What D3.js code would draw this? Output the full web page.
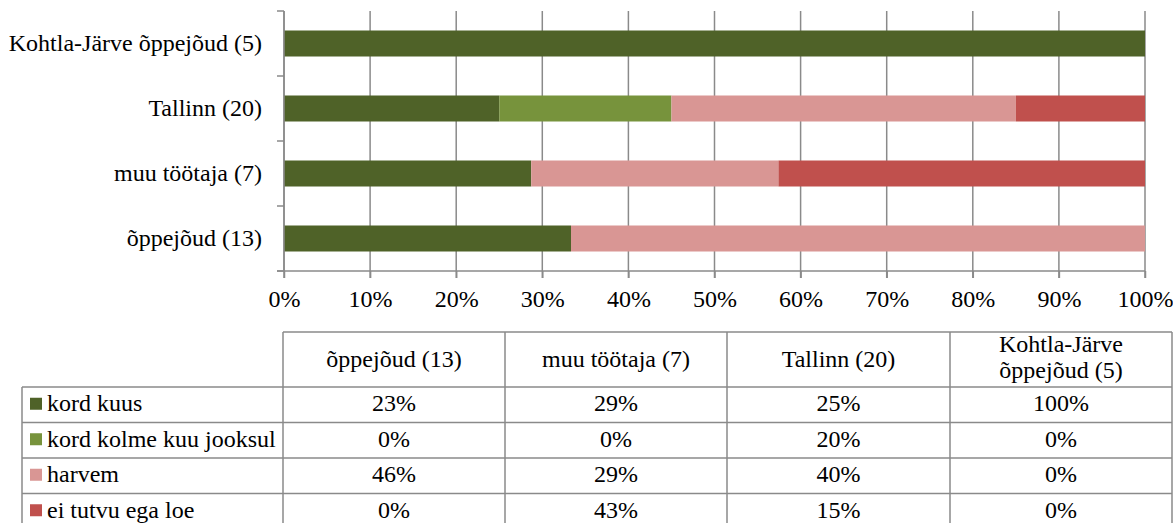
<!DOCTYPE html>
<html>
<head>
	<meta charset="utf-8">
	<title>Stacked bars with data table</title>
	<script src="https://d3js.org/d3.v7.min.js"></script>
	<style>
		body { margin: 0; background: #fff; }
		text { font-family: "Liberation Serif", "Times New Roman", serif; fill: #000; }
	</style>
</head>
<body>
	<div id="chart"></div>
	<script>
		// data
		var categories = ["õppejõud (13)", "muu töötaja (7)", "Tallinn (20)", "Kohtla-Järve õppejõud (5)"];
		var seriesNames = ["kord kuus", "kord kolme kuu jooksul", "harvem", "ei tutvu ega loe"];
		var kordKuus = [23, 29, 25, 100];
		var kordKolme = [0, 0, 20, 0];
		var harvem = [46, 29, 40, 0];
		var eiTutvu = [0, 43, 15, 0];
		var seriesValues = [kordKuus, kordKolme, harvem, eiTutvu];
		var colors = ["#4f6228", "#77933c", "#d99694", "#c0504d"];
		var xTicks = [0, 0.1, 0.2, 0.3, 0.4, 0.5, 0.6, 0.7, 0.8, 0.9, 1];

		var W = 1173, H = 523;
		var gridColor = "#8a8a8a";
		var fontSize = "24px";

		var svg = d3.select("#chart").append("svg")
			.attr("width", W)
			.attr("height", H);

		// rows for d3.stack
		var rows = categories.map(function(c, i) {
			var r = {cat: c};
			seriesNames.forEach(function(s, j) { r[s] = seriesValues[j][i]; });
			return r;
		});
		var stacked = d3.stack().keys(seriesNames).offset(d3.stackOffsetExpand)(rows);

		//<------------ chart ------------>
		var plotTop = 11, plotBottom = 271;
		var xScale = d3.scaleLinear().domain([0, 1]).range([284, 1145]);
		// first category sits at the bottom
		var yScale = d3.scaleBand()
			.domain(categories.slice().reverse())
			.range([plotTop, plotBottom])
			.paddingInner(0.6)
			.paddingOuter(0.3);

		// gridlines
		svg.append("g").selectAll("line")
			.data(xTicks)
			.join("line")
				.attr("x1", d => xScale(d))
				.attr("x2", d => xScale(d))
				.attr("y1", plotTop)
				.attr("y2", plotBottom + 7)
				.style("stroke", gridColor)
				.style("stroke-width", 1.5);

		// bars
		svg.append("g").selectAll("g")
			.data(stacked)
			.join("g")
				.style("fill", (d, i) => colors[i])
			.selectAll("rect")
			.data(d => d)
			.join("rect")
				.attr("x", d => xScale(d[0]))
				.attr("y", d => yScale(d.data.cat))
				.attr("width", d => xScale(d[1]) - xScale(d[0]))
				.attr("height", yScale.bandwidth());

		// x axis
		var xAxis = svg.append("g")
			.attr("transform", "translate(0," + plotBottom + ")")
			.call(d3.axisBottom(xScale).tickValues(xTicks).tickFormat(d3.format(".0%")).tickSize(7).tickPadding(12));
		xAxis.select(".domain").remove();
		xAxis.selectAll(".tick line").style("stroke", gridColor).style("stroke-width", 1.5);
		xAxis.selectAll("text")
			.style("font-family", "Liberation Serif")
			.style("font-size", fontSize)
			.attr("fill", "#000");
		svg.append("line")
			.attr("x1", xScale(0) - 7).attr("x2", xScale(1))
			.attr("y1", plotBottom).attr("y2", plotBottom)
			.style("stroke", gridColor).style("stroke-width", 1.5);

		// y axis: ticks between categories
		var yEdges = d3.range(categories.length + 1).map(i => plotTop + i * yScale.step());
		svg.append("line")
			.attr("x1", xScale(0)).attr("x2", xScale(0))
			.attr("y1", plotTop).attr("y2", plotBottom)
			.style("stroke", gridColor).style("stroke-width", 1.5);
		svg.append("g").selectAll("line")
			.data(yEdges)
			.join("line")
				.attr("x1", xScale(0) - 7).attr("x2", xScale(0))
				.attr("y1", d => d).attr("y2", d => d)
				.style("stroke", gridColor).style("stroke-width", 1.5);
		svg.append("g").selectAll("text")
			.data(categories)
			.join("text")
				.attr("x", 262)
				.attr("y", d => yScale(d) + yScale.bandwidth() / 2)
				.attr("dy", "0.33em")
				.style("text-anchor", "end")
				.style("font-size", fontSize)
				.text(d => d);

		//<------------ data table ------------>
		var colX = [22, 283, 505, 727, 950, 1172];
		var headTop = 332, headBottom = 387, rowH = 35.5;
		var tableBottom = headBottom + rowH * seriesNames.length;
		var table = svg.append("g");

		// header cells (no cell above the legend column)
		table.append("line")
			.attr("x1", colX[1]).attr("x2", colX[5])
			.attr("y1", headTop).attr("y2", headTop);
		colX.slice(1).forEach(function(x) {
			table.append("line")
				.attr("x1", x).attr("x2", x)
				.attr("y1", headTop).attr("y2", tableBottom);
		});
		table.append("line")
			.attr("x1", colX[0]).attr("x2", colX[0])
			.attr("y1", headBottom).attr("y2", tableBottom);
		d3.range(seriesNames.length + 1).forEach(function(i) {
			var y = headBottom + i * rowH;
			table.append("line")
				.attr("x1", colX[0]).attr("x2", colX[5])
				.attr("y1", y).attr("y2", y);
		});
		table.selectAll("line").style("stroke", gridColor).style("stroke-width", 1.5);

		// header texts, wrapped when too wide for the column
		categories.forEach(function(c, i) {
			var cx = (colX[i + 1] + colX[i + 2]) / 2;
			var t = table.append("text")
				.attr("x", cx)
				.style("text-anchor", "middle")
				.style("font-size", fontSize)
				.text(c);
			if (t.node().getComputedTextLength() > colX[i + 2] - colX[i + 1] - 20) {
				var words = c.split(" ");
				var lines = [words.slice(0, 1).join(" "), words.slice(1).join(" ")];
				t.text(null);
				lines.forEach(function(l, k) {
					t.append("tspan")
						.attr("x", cx)
						.attr("y", (headTop + headBottom) / 2 - 2 + (k - 0.5) * 26)
						.attr("dy", "0.33em")
						.text(l);
				});
			} else {
				t.attr("y", (headTop + headBottom) / 2).attr("dy", "0.33em");
			}
		});

		// rows: legend key + values
		seriesNames.forEach(function(s, j) {
			var cy = headBottom + j * rowH + rowH / 2;
			table.append("rect")
				.attr("x", 30).attr("y", cy - 7)
				.attr("width", 12).attr("height", 12)
				.style("fill", colors[j]);
			table.append("text")
				.attr("x", 47).attr("y", cy)
				.attr("dy", "0.27em")
				.style("font-size", fontSize)
				.text(s);
			seriesValues[j].forEach(function(v, i) {
				table.append("text")
					.attr("x", (colX[i + 1] + colX[i + 2]) / 2)
					.attr("y", cy)
					.attr("dy", "0.27em")
					.style("text-anchor", "middle")
					.style("font-size", fontSize)
					.text(v + "%");
			});
		});
	</script>
</body>
</html>
